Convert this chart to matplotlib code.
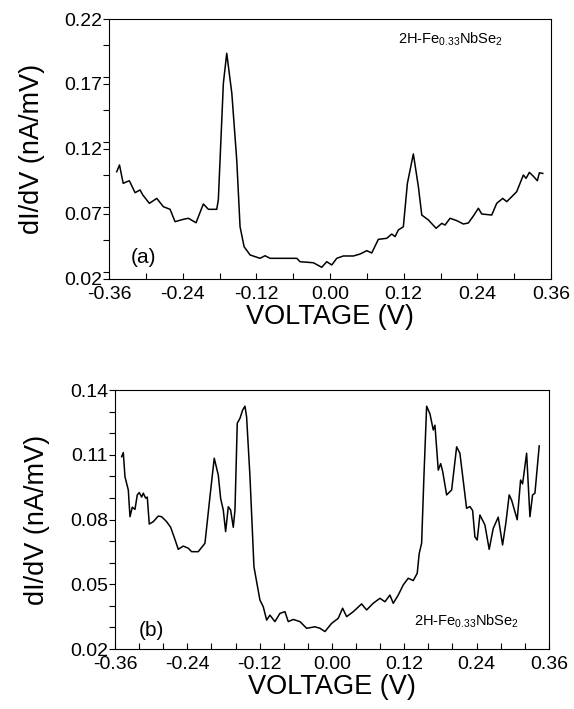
import matplotlib.pyplot as plt
from matplotlib.ticker import MultipleLocator
import numpy as np

plt.rcParams['font.family'] = ['Liberation Sans', 'DejaVu Sans']
plt.rcParams['mathtext.default'] = 'regular'

# panel (a)
va = [-0.3475, -0.343, -0.337, -0.327, -0.3176, -0.3095, -0.305, -0.2943, -0.2823,
      -0.2715, -0.2606, -0.2525, -0.239, -0.2308, -0.2183, -0.2064, -0.1982, -0.1846,
      -0.182, -0.1738, -0.1683, -0.16, -0.152, -0.1466, -0.14, -0.1303, -0.114, -0.1059,
      -0.0977, -0.0705, -0.0542, -0.0489, -0.0272, -0.0135, -0.0054, 0.0028, 0.0109,
      0.0217, 0.038, 0.0489, 0.0598, 0.0679, 0.0787, 0.0924, 0.1005, 0.1059, 0.1113,
      0.1194, 0.126, 0.1357, 0.1439, 0.1494, 0.1602, 0.1727, 0.182, 0.1873, 0.1955,
      0.2064, 0.2172, 0.2253, 0.2335, 0.2416, 0.2471, 0.2634, 0.2715, 0.2813, 0.2878,
      0.296, 0.3041, 0.3149, 0.3193, 0.3247, 0.3312, 0.3377, 0.341, 0.3465]
ga = [0.1025, 0.1077, 0.0936, 0.0956, 0.0864, 0.0885, 0.0846, 0.0782, 0.082,
      0.0756, 0.0736, 0.0641, 0.0659, 0.0667, 0.0633, 0.0777, 0.0736, 0.0736,
      0.0808, 0.1705, 0.1936, 0.1628, 0.1115, 0.0602, 0.0448, 0.0385, 0.0359, 0.0379,
      0.0359, 0.0359, 0.0359, 0.0333, 0.0325, 0.029, 0.0333, 0.0308, 0.0359,
      0.0377, 0.0377, 0.0392, 0.0418, 0.040, 0.0505, 0.0513, 0.0546, 0.0526, 0.0577,
      0.0602, 0.0936, 0.1162, 0.091, 0.0692, 0.0654, 0.059, 0.0628, 0.0615, 0.0667,
      0.0649, 0.0623, 0.0631, 0.0685, 0.0744, 0.070, 0.0692, 0.0782, 0.082, 0.0795,
      0.0833, 0.0872, 0.100, 0.0974, 0.102, 0.099, 0.0956, 0.1017, 0.1012]

# panel (b)
vb = [-0.3489, -0.3462, -0.3434, -0.3379, -0.3351, -0.3313, -0.3268, -0.323, -0.3197,
      -0.3157, -0.313, -0.3091, -0.3064, -0.3031, -0.2964, -0.2882, -0.2826, -0.2743,
      -0.2676, -0.2605, -0.255, -0.2467, -0.2384, -0.2328, -0.2218, -0.2107, -0.2024,
      -0.1953, -0.1886, -0.1847, -0.1803, -0.1764, -0.172, -0.1681, -0.1637, -0.1609,
      -0.1571, -0.1526, -0.1482, -0.1443, -0.1416, -0.136, -0.1294, -0.1195, -0.114,
      -0.1083, -0.1029, -0.0946, -0.0863, -0.078, -0.0725, -0.0642, -0.0531, -0.042,
      -0.0282, -0.0199, -0.0116, -0.0005, 0.0104, 0.0177, 0.0244, 0.0354, 0.0492,
      0.0575, 0.0685, 0.0796, 0.0879, 0.0962, 0.1017, 0.11, 0.1183, 0.1266, 0.1349,
      0.1415, 0.1448, 0.1488, 0.1526, 0.1571, 0.1626, 0.1681, 0.1709, 0.1764, 0.1804,
      0.1837, 0.1903, 0.1986, 0.2069, 0.2123, 0.2234, 0.2289, 0.2334, 0.2372, 0.241,
      0.2455, 0.2538, 0.2609, 0.2676, 0.2759, 0.2831, 0.2886, 0.2941, 0.2981, 0.3074,
      0.313, 0.3163, 0.323, 0.3285, 0.3329, 0.3368, 0.3439]
gb = [0.1091, 0.111, 0.0998, 0.0937, 0.0813, 0.0857, 0.0847, 0.0914, 0.0925,
      0.0904, 0.0922, 0.0899, 0.0904, 0.0779, 0.079, 0.0816, 0.0813, 0.079,
      0.0764, 0.0708, 0.0662, 0.0677, 0.0667, 0.0651, 0.0651, 0.069, 0.0906,
      0.1084, 0.1006, 0.0898, 0.0844, 0.0744, 0.0859, 0.0844, 0.0764, 0.0844,
      0.1246, 0.1269, 0.1307, 0.1325, 0.1276, 0.0998, 0.0581, 0.0427, 0.0396,
      0.0334, 0.0357, 0.0327, 0.0365, 0.0373, 0.0327, 0.0337, 0.0327, 0.0296,
      0.0303, 0.0296, 0.0281, 0.0319, 0.0342, 0.0389, 0.035, 0.0373, 0.0409,
      0.0381, 0.0412, 0.0435, 0.0419, 0.045, 0.0412, 0.045, 0.0497, 0.0528, 0.0517,
      0.0551, 0.0643, 0.069, 0.0998, 0.1325, 0.129, 0.1215, 0.1237, 0.1029, 0.1059,
      0.1023, 0.0914, 0.0937, 0.1137, 0.1107, 0.0852, 0.086, 0.0842, 0.072, 0.0705,
      0.0821, 0.0775, 0.0662, 0.0759, 0.0811, 0.0682, 0.0785, 0.0914, 0.089, 0.0799,
      0.0983, 0.0965, 0.1107, 0.0813, 0.0914, 0.0922, 0.1141]

xticks = [-0.36, -0.24, -0.12, 0.00, 0.12, 0.24, 0.36]
yticks_a = [0.02, 0.07, 0.12, 0.17, 0.22]
yticks_b = [0.02, 0.05, 0.08, 0.11, 0.14]

fig = plt.figure(figsize=(5.74, 7.09), dpi=100)
ax1 = fig.add_axes([0.190, 0.6065, 0.770, 0.3667])
ax2 = fig.add_axes([0.2003, 0.0846, 0.756, 0.3653])

for ax, v, g, yt, xmin, ymin in [(ax1, va, ga, yticks_a, 0.06, 0.025),
                                 (ax2, vb, gb, yticks_b, 0.04, 0.01)]:
    ax.plot(v, g, color='black', lw=1.1)
    ax.set_xlim(-0.36, 0.36)
    ax.set_ylim(yt[0], yt[-1])
    ax.set_xticks(xticks)
    ax.set_xticklabels(['%.2f' % t for t in xticks])
    ax.set_yticks(yt)
    ax.set_yticklabels(['%.2f' % t for t in yt])
    ax.xaxis.set_minor_locator(MultipleLocator(xmin))
    ax.yaxis.set_minor_locator(MultipleLocator(ymin))
    ax.tick_params(axis='x', which='both', direction='in', length=4, width=0.8,
                   labelsize=14, pad=5)
    ax.tick_params(axis='y', which='both', direction='out', length=4, width=0.8,
                   labelsize=14, pad=1)
    ax.set_xlabel('VOLTAGE (V)', fontsize=19.5, labelpad=1)
    ax.set_ylabel('dI/dV (nA/mV)', fontsize=19.5, labelpad=14)
    for s in ax.spines.values():
        s.set_linewidth(0.8)

ax1.text(0.653, 0.905, r'2H-Fe$_{0.33}$NbSe$_2$', transform=ax1.transAxes, fontsize=10.5)
ax1.text(0.05, 0.06, '(a)', transform=ax1.transAxes, fontsize=15)
ax2.text(0.69, 0.09, r'2H-Fe$_{0.33}$NbSe$_2$', transform=ax2.transAxes, fontsize=10.5)
ax2.text(0.055, 0.05, '(b)', transform=ax2.transAxes, fontsize=15)

fig.savefig('out.png', dpi=100)
